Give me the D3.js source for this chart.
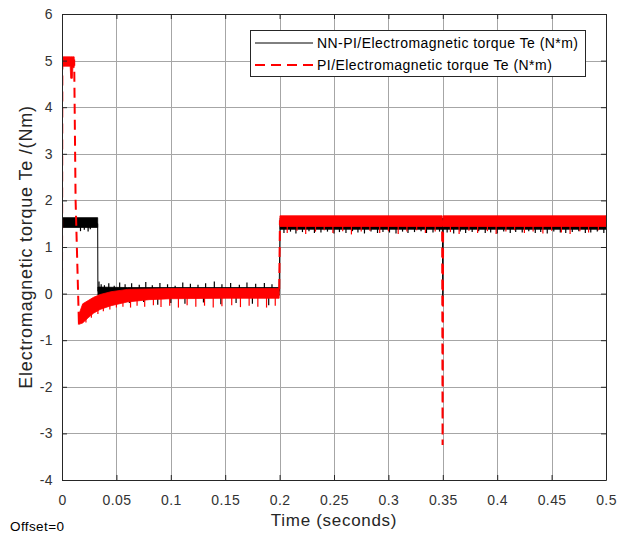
<!DOCTYPE html>
<html>
<head>
<meta charset="utf-8">
<script src="https://cdn.jsdelivr.net/npm/d3@7"></script>
<style>
  body { margin: 0; background: #fff; }
  svg { font-family: "Liberation Sans", Arial, sans-serif; }
  .tick text { fill: #333; font-size: 14px; letter-spacing: 0.4px; }
</style>
</head>
<body>
<div class="chart"></div>
<script>
// ---- data ----
var xTicks = [0, 0.05, 0.1, 0.15, 0.2, 0.25, 0.3, 0.35, 0.4, 0.45, 0.5];
var yTicks = [-4, -3, -2, -1, 0, 1, 2, 3, 4, 5, 6];

var legendLabels = ["NN-PI/Electromagnetic torque Te (N*m)", "PI/Electromagnetic torque Te (N*m)"];

// NN-PI: mean trajectory [t, Te]
var nnpiPath = [[0, 0], [0.0004, 1.5], [0.0328, 1.5], [0.033, 0.05], [0.1996, 0.05],
    [0.2004, 1.5], [0.3496, 1.5], [0.35, -0.08], [0.3504, 1.5], [0.5, 1.5]];

// NN-PI: noise envelope [t, low, high]
var nnpiBands = [
    [[0.0004, 1.42, 1.63], [0.0328, 1.42, 1.63]],
    [[0.033, -0.03, 0.14], [0.06, -0.04, 0.13], [0.1996, -0.04, 0.13]],
    [[0.2004, 1.38, 1.62], [0.3496, 1.38, 1.62]],
    [[0.3504, 1.38, 1.62], [0.5, 1.38, 1.62]]
];

// NN-PI: spike tips [t, base, tip]
var nnpiSpikes = [
    [0.017, 1.45, 1.34], [0.0205, 1.45, 1.37], [0.024, 1.45, 1.33], [0.026, 1.45, 1.38],
    [0.034, 0.1, 0.26], [0.036, 0.1, 0.2], [0.039, 0.1, 0.18], [0.043, 0.1, 0.22], [0.048, 0.1, 0.17],
    [0.053, 0.1, 0.24], [0.058, 0.1, 0.2], [0.064, 0.1, 0.22], [0.071, 0.1, 0.19], [0.077, 0.1, 0.25],
    [0.083, 0.1, 0.18], [0.09, 0.1, 0.23], [0.097, 0.1, 0.2], [0.104, 0.1, 0.17], [0.111, 0.1, 0.24],
    [0.118, 0.1, 0.21], [0.125, 0.1, 0.19], [0.132, 0.1, 0.22], [0.14, 0.1, 0.26], [0.147, 0.1, 0.2],
    [0.155, 0.1, 0.23], [0.163, 0.1, 0.19], [0.17, 0.1, 0.24], [0.178, 0.1, 0.21], [0.186, 0.1, 0.23],
    [0.193, 0.1, 0.2],
    [0.05, 0, -0.22], [0.062, 0, -0.2], [0.075, 0, -0.18], [0.088, 0, -0.24], [0.1, 0, -0.2],
    [0.113, 0, -0.22], [0.13, 0, -0.19], [0.146, 0, -0.23], [0.16, 0, -0.2], [0.175, 0, -0.22],
    [0.19, 0, -0.25],
    [0.204, 1.45, 1.3], [0.21, 1.45, 1.33], [0.215, 1.45, 1.29], [0.221, 1.45, 1.32], [0.227, 1.45, 1.34],
    [0.232, 1.45, 1.3], [0.238, 1.45, 1.31], [0.244, 1.45, 1.33], [0.25, 1.45, 1.29], [0.255, 1.45, 1.32],
    [0.261, 1.45, 1.3], [0.267, 1.45, 1.34], [0.272, 1.45, 1.31], [0.278, 1.45, 1.29], [0.284, 1.45, 1.33],
    [0.29, 1.45, 1.3], [0.295, 1.45, 1.32], [0.301, 1.45, 1.31], [0.307, 1.45, 1.29], [0.313, 1.45, 1.33],
    [0.318, 1.45, 1.3], [0.324, 1.45, 1.32], [0.33, 1.45, 1.34], [0.335, 1.45, 1.3], [0.341, 1.45, 1.31],
    [0.347, 1.45, 1.33],
    [0.354, 1.45, 1.31], [0.36, 1.45, 1.29], [0.366, 1.45, 1.33], [0.371, 1.45, 1.3], [0.377, 1.45, 1.32],
    [0.383, 1.45, 1.34], [0.389, 1.45, 1.3], [0.394, 1.45, 1.31], [0.4, 1.45, 1.29], [0.406, 1.45, 1.33],
    [0.412, 1.45, 1.3], [0.417, 1.45, 1.32], [0.423, 1.45, 1.31], [0.429, 1.45, 1.34], [0.435, 1.45, 1.3],
    [0.44, 1.45, 1.32], [0.446, 1.45, 1.29], [0.452, 1.45, 1.33], [0.458, 1.45, 1.31], [0.463, 1.45, 1.3],
    [0.469, 1.45, 1.32], [0.475, 1.45, 1.34], [0.481, 1.45, 1.3], [0.486, 1.45, 1.31], [0.492, 1.45, 1.33],
    [0.498, 1.45, 1.3]
];

// PI: mean trajectory [t, Te]
var piPath = [[0, 0], [0.0003, 5], [0.0112, 5], [0.0125, 2], [0.0155, -0.6], [0.019, -0.45],
    [0.029, -0.25], [0.045, -0.1], [0.08, -0.01], [0.1996, 0], [0.2003, 1.55], [0.3494, 1.55],
    [0.3498, -3.25], [0.3503, 1.55], [0.5, 1.55]];

// PI: noise envelope [t, low, high]
var piBands = [
    [[0.0003, 4.88, 5.08], [0.0075, 4.88, 5.08], [0.008, 4.62, 5.08], [0.0095, 4.62, 5.08],
     [0.01, 4.85, 5.08], [0.0112, 4.85, 5.08]],
    [[0.0155, -0.66, -0.45], [0.019, -0.63, -0.22], [0.024, -0.52, -0.15], [0.029, -0.42, -0.08],
     [0.035, -0.34, -0.02], [0.045, -0.26, 0.04], [0.06, -0.18, 0.09], [0.08, -0.13, 0.1],
     [0.1, -0.11, 0.11], [0.15, -0.1, 0.11], [0.1996, -0.1, 0.11]],
    [[0.2003, 1.44, 1.67], [0.3494, 1.44, 1.67]],
    [[0.3503, 1.44, 1.67], [0.5, 1.44, 1.67]]
];

// PI: spike tips [t, base, tip]
var piSpikes = [
    [0.022, -0.4, -0.62], [0.027, -0.3, -0.52], [0.033, -0.2, -0.44], [0.038, -0.15, -0.38],
    [0.044, -0.1, -0.34], [0.05, -0.05, -0.3], [0.056, -0.05, -0.28], [0.063, 0, -0.3],
    [0.069, 0, -0.26], [0.076, 0, -0.28], [0.084, 0, -0.25], [0.091, 0, -0.29], [0.099, 0, -0.26],
    [0.107, 0, -0.3], [0.115, 0, -0.25], [0.123, 0, -0.28], [0.131, 0, -0.26], [0.139, 0, -0.3],
    [0.147, 0, -0.27], [0.156, 0, -0.25], [0.164, 0, -0.29], [0.172, 0, -0.26], [0.18, 0, -0.28],
    [0.188, 0, -0.3], [0.196, 0, -0.26],
    [0.207, 1.5, 1.3], [0.216, 1.5, 1.35], [0.224, 1.5, 1.28], [0.233, 1.5, 1.33], [0.241, 1.5, 1.36],
    [0.249, 1.5, 1.3], [0.258, 1.5, 1.34], [0.266, 1.5, 1.27], [0.275, 1.5, 1.33], [0.283, 1.5, 1.35],
    [0.292, 1.5, 1.3], [0.3, 1.5, 1.34], [0.309, 1.5, 1.28], [0.317, 1.5, 1.33], [0.326, 1.5, 1.36],
    [0.334, 1.5, 1.3], [0.343, 1.5, 1.33],
    [0.357, 1.5, 1.32], [0.365, 1.5, 1.28], [0.374, 1.5, 1.35], [0.382, 1.5, 1.3], [0.391, 1.5, 1.34],
    [0.399, 1.5, 1.28], [0.408, 1.5, 1.33], [0.416, 1.5, 1.36], [0.425, 1.5, 1.3], [0.433, 1.5, 1.33],
    [0.442, 1.5, 1.29], [0.45, 1.5, 1.35], [0.459, 1.5, 1.31], [0.467, 1.5, 1.28], [0.476, 1.5, 1.34],
    [0.484, 1.5, 1.31], [0.493, 1.5, 1.36]
];

// ---- layout ----
var dim = { width: 624, height: 536, left: 62, right: 606, top: 14, bottom: 480 };

var x = d3.scaleLinear().domain([0, 0.5]).range([dim.left, dim.right]);
var y = d3.scaleLinear().domain([-4, 6]).range([dim.bottom, dim.top]);

var svg = d3.select(".chart").append("svg")
    .attr("width", dim.width)
    .attr("height", dim.height);

svg.append("defs").append("clipPath")
    .attr("id", "plotClip")
    .append("rect")
    .attr("x", dim.left)
    .attr("y", dim.top)
    .attr("width", dim.right - dim.left)
    .attr("height", dim.bottom - dim.top);

// grid
var grid = svg.append("g").attr("class", "grid")
    .attr("stroke", "#a6a6a6").attr("stroke-width", 1);
grid.selectAll("line.gx").data(xTicks.slice(1, -1)).enter().append("line")
    .attr("x1", function(d) { return Math.round(x(d)) + 0.5; })
    .attr("x2", function(d) { return Math.round(x(d)) + 0.5; })
    .attr("y1", dim.top).attr("y2", dim.bottom);
grid.selectAll("line.gy").data(yTicks.slice(1, -1)).enter().append("line")
    .attr("y1", function(d) { return Math.round(y(d)) + 0.5; })
    .attr("y2", function(d) { return Math.round(y(d)) + 0.5; })
    .attr("x1", dim.left).attr("x2", dim.right);

var plot = svg.append("g").attr("clip-path", "url(#plotClip)");

var line = d3.line()
    .x(function(d) { return x(d[0]); })
    .y(function(d) { return y(d[1]); });

var band = d3.area()
    .x(function(d) { return x(d[0]); })
    .y0(function(d) { return y(d[1]); })
    .y1(function(d) { return y(d[2]); });

function drawSeries(bands, spikes, path, color, width, dash) {
    var g = plot.append("g");
    g.selectAll("path.band").data(bands).enter().append("path")
        .attr("d", band)
        .attr("fill", color)
        .attr("stroke", color)
        .attr("stroke-width", 0.8);
    g.selectAll("line.spike").data(spikes).enter().append("line")
        .attr("x1", function(d) { return x(d[0]); })
        .attr("x2", function(d) { return x(d[0]); })
        .attr("y1", function(d) { return y(d[1]); })
        .attr("y2", function(d) { return y(d[2]); })
        .attr("stroke", color)
        .attr("stroke-width", 1.2);
    g.append("path")
        .datum(path)
        .attr("d", line)
        .attr("fill", "none")
        .attr("stroke", color)
        .attr("stroke-width", width)
        .attr("stroke-dasharray", dash);
}

drawSeries(nnpiBands, nnpiSpikes, nnpiPath, "#000", 1, null);
drawSeries(piBands, piSpikes, piPath, "#ff0000", 2, "10,6");

// axes (box with ticks on all sides), plain hyphen for negatives as in MATLAB
var axisColor = "#262626";
var plain = function(d) { return String(d); };
var xAxis = d3.axisBottom(x).tickValues(xTicks).tickSizeInner(-5).tickSizeOuter(0).tickFormat(plain);
var yAxis = d3.axisLeft(y).tickValues(yTicks).tickSizeInner(-5).tickSizeOuter(0).tickPadding(9)
    .tickFormat(plain);

var gx = svg.append("g").attr("transform", "translate(0," + dim.bottom + ")").call(xAxis);
var gy = svg.append("g").attr("transform", "translate(" + dim.left + ",0)").call(yAxis);
var gxt = svg.append("g").attr("transform", "translate(0," + dim.top + ")")
    .call(d3.axisTop(x).tickValues(xTicks).tickSizeInner(-5).tickSizeOuter(0).tickFormat(""));
var gyr = svg.append("g").attr("transform", "translate(" + dim.right + ",0)")
    .call(d3.axisRight(y).tickValues(yTicks).tickSizeInner(-5).tickSizeOuter(0).tickFormat(""));

[gx, gy, gxt, gyr].forEach(function(g) {
    g.select(".domain").attr("stroke", axisColor);
    g.selectAll(".tick line").attr("stroke", axisColor);
});
gx.selectAll(".tick text").attr("y", 25).attr("dy", null);

// legend
var legend = svg.append("g").attr("class", "legend");
legend.append("rect")
    .attr("x", 250.5).attr("y", 30.5)
    .attr("width", 335).attr("height", 46)
    .attr("fill", "#fff").attr("stroke", axisColor);
var legendStyles = [{ color: "#000", width: 1, dash: null }, { color: "#ff0000", width: 2, dash: "10,6" }];
legendLabels.forEach(function(label, i) {
    var ly = 43 + i * 22;
    legend.append("line")
        .attr("x1", 255).attr("x2", 313)
        .attr("y1", ly).attr("y2", ly)
        .attr("stroke", legendStyles[i].color)
        .attr("stroke-width", legendStyles[i].width)
        .attr("stroke-dasharray", legendStyles[i].dash);
    legend.append("text")
        .attr("x", 317).attr("y", ly)
        .attr("dy", "0.35em")
        .attr("font-size", 14)
        .attr("letter-spacing", 0.45)
        .attr("fill", "#000")
        .text(label);
});

// labels
svg.append("text")
    .attr("x", (dim.left + dim.right) / 2).attr("y", 526)
    .attr("text-anchor", "middle")
    .attr("font-size", 17)
    .attr("letter-spacing", 0.7)
    .attr("fill", axisColor)
    .text("Time (seconds)");

svg.append("text")
    .attr("transform", "translate(32," + ((dim.top + dim.bottom) / 2) + ") rotate(-90)")
    .attr("text-anchor", "middle")
    .attr("font-size", 18)
    .attr("letter-spacing", 0.8)
    .attr("fill", axisColor)
    .text("Electromagnetic torque Te /(Nm)");

svg.append("text")
    .attr("x", 10).attr("y", 531)
    .attr("font-size", 13.5)
    .attr("letter-spacing", 0.4)
    .attr("fill", "#000")
    .text("Offset=0");
</script>
</body>
</html>
